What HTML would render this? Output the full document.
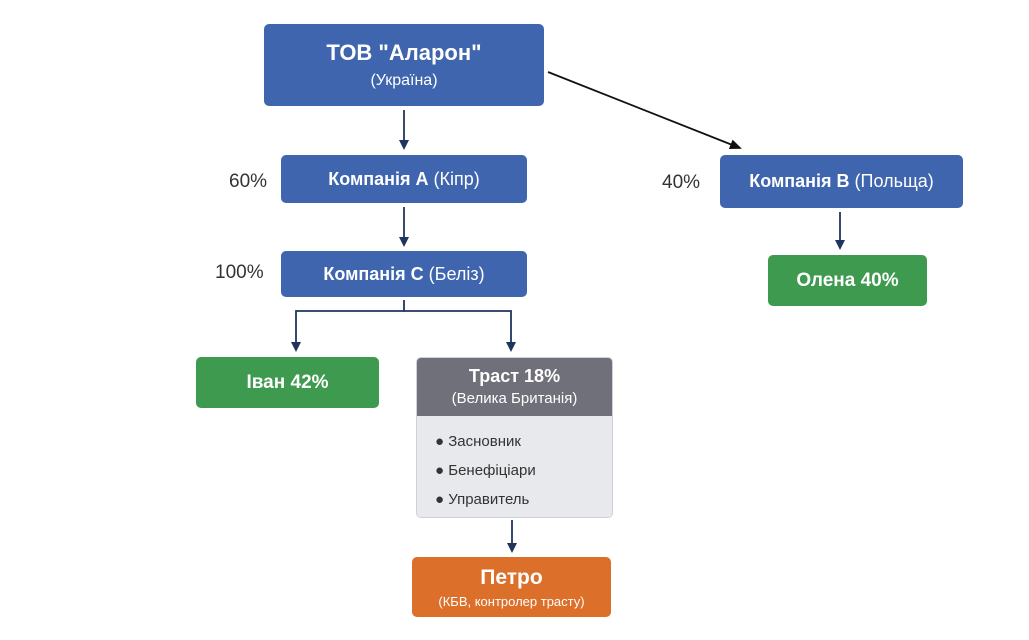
<!DOCTYPE html>
<html><head><meta charset="utf-8"><style>
body{margin:0;width:1029px;height:640px;background:#fff;position:relative;overflow:hidden;font-family:"Liberation Sans","DejaVu Sans",sans-serif}
.b{position:absolute;border-radius:5px;color:#fff;display:flex;flex-direction:column;align-items:center;justify-content:center;text-align:center;box-sizing:border-box}
.blue{background:#3f65ae}
.green{background:#3d9a4e}
.lbl{position:absolute;font-size:19px;color:#333}
svg{position:absolute;left:0;top:0}
</style></head><body>
<svg width="1029" height="640">
<defs><marker id="a" markerWidth="10" markerHeight="10" refX="8" refY="5" orient="auto" markerUnits="userSpaceOnUse"><path d="M0,0 L10,5 L0,10 z" fill="#1f3560"/></marker>
<marker id="k" markerWidth="12" markerHeight="10" refX="10" refY="5" orient="auto" markerUnits="userSpaceOnUse"><path d="M0,0 L12,5 L0,10 z" fill="#111"/></marker></defs>
<g stroke="#1f3560" stroke-width="1.8" fill="none">
<line x1="404" y1="110" x2="404" y2="148" marker-end="url(#a)"/>
<line x1="404" y1="207" x2="404" y2="245" marker-end="url(#a)"/>
<line x1="840" y1="212" x2="840" y2="248" marker-end="url(#a)"/>
<polyline points="404,300 404,311 296,311 296,350" marker-end="url(#a)"/>
<polyline points="404,311 511,311 511,350" marker-end="url(#a)"/>
<line x1="512" y1="520" x2="512" y2="551" marker-end="url(#a)"/>
</g>
<line x1="548" y1="72" x2="740" y2="148" stroke="#111" stroke-width="1.8" marker-end="url(#k)"/>
</svg>
<div class="b blue" style="left:264px;top:24px;width:280px;height:82px"><div style="font-size:22px;font-weight:bold">ТОВ "Аларон"</div><div style="font-size:16px;margin-top:6px">(Україна)</div></div>
<div class="b blue" style="left:281px;top:155px;width:246px;height:48px;font-size:18px"><div><b>Компанія A</b> (Кіпр)</div></div>
<div class="b blue" style="left:281px;top:251px;width:246px;height:46px;font-size:18px"><div><b>Компанія C</b> (Беліз)</div></div>
<div class="b blue" style="left:720px;top:155px;width:243px;height:53px;font-size:18px"><div><b>Компанія B</b> (Польща)</div></div>
<div class="b green" style="left:768px;top:255px;width:159px;height:51px;font-size:19px;font-weight:bold">Олена 40%</div>
<div class="b green" style="left:196px;top:357px;width:183px;height:51px;font-size:19px;font-weight:bold">Іван 42%</div>
<div class="lbl" style="left:229px;top:171px">60%</div>
<div class="lbl" style="left:215px;top:262px">100%</div>
<div class="lbl" style="left:662px;top:172px">40%</div>
<div style="position:absolute;left:416px;top:357px;width:197px;height:161px;border-radius:5px;background:#e8e9ec;border:1px solid #cfd1d6;box-sizing:border-box;overflow:hidden">
 <div style="background:#6f7079;color:#fff;height:58px;text-align:center;padding-top:8px;box-sizing:border-box"><div style="font-size:18px;font-weight:bold">Траст 18%</div><div style="font-size:15px;margin-top:3px">(Велика Британія)</div></div>
 <div style="font-size:15px;color:#333;padding:11px 0 0 18px;line-height:29px">● Засновник<br>● Бенефіціари<br>● Управитель</div>
</div>
<div class="b" style="left:412px;top:557px;width:199px;height:60px;background:#dc6f2a"><div style="font-size:21px;font-weight:bold">Петро</div><div style="font-size:13px;margin-top:4px">(КБВ, контролер трасту)</div></div>
</body></html>
